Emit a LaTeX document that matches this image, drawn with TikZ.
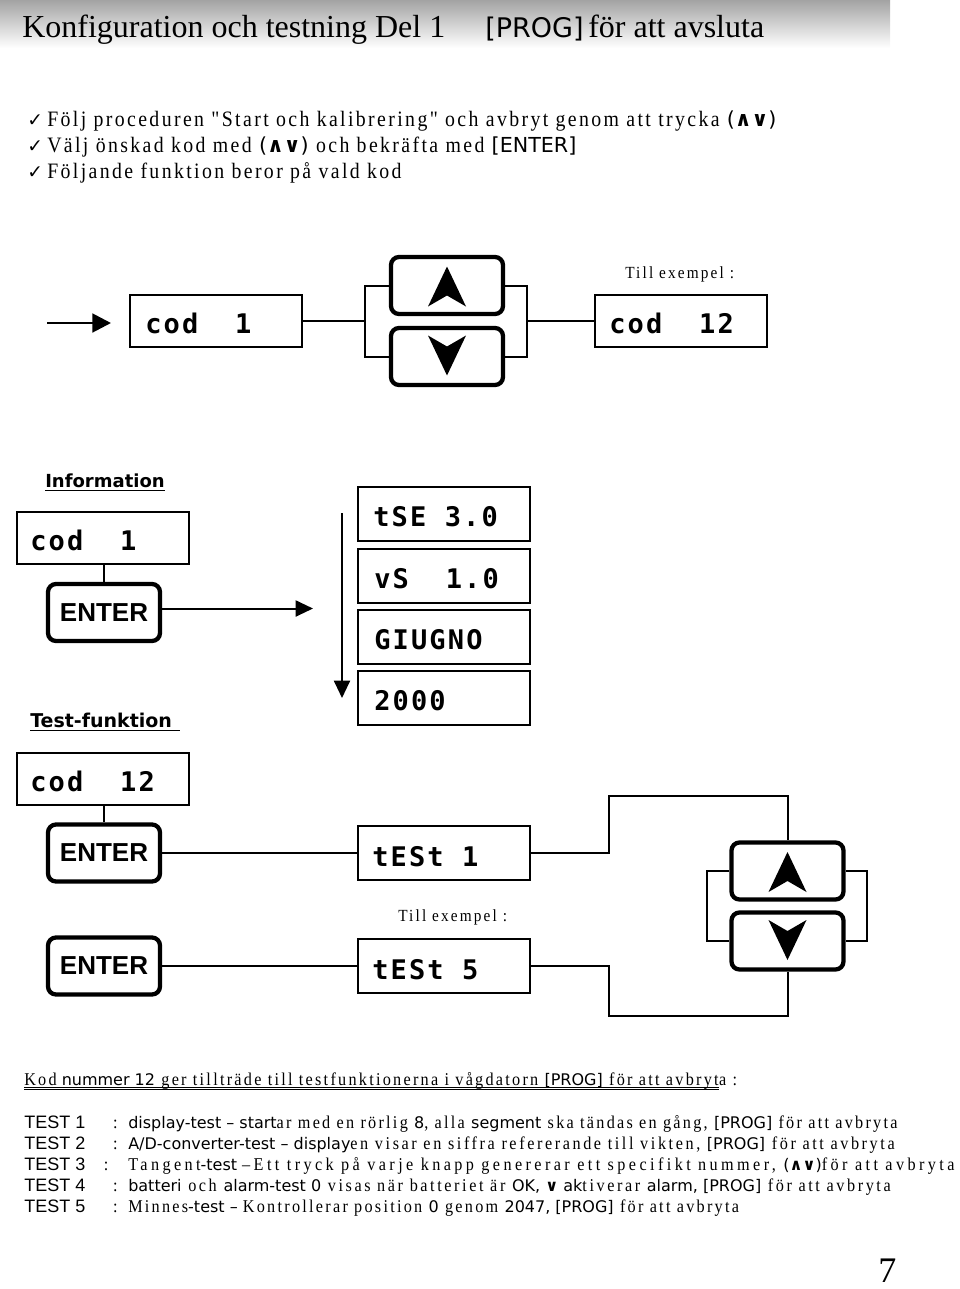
\documentclass[tikz,border=0pt]{standalone}
\usepackage{fontspec}
\usepackage{graphicx}
\usetikzlibrary{arrows.meta}
\setmainfont{Liberation Serif}
\newfontfamily\titlef{Liberation Serif}
\newfontfamily\srA[LetterSpace=12]{Liberation Serif}
\newfontfamily\srB[LetterSpace=14]{Liberation Serif}
\newfontfamily\srBB[LetterSpace=16]{Liberation Serif}
\newfontfamily\srC[LetterSpace=21]{Liberation Serif}
\newfontfamily\cm{DejaVu Sans}
\newfontfamily\lcdf[LetterSpace=8]{DejaVu Sans Mono}
\newfontfamily\arl{Liberation Sans}
\newfontfamily\sym{DejaVu Sans}
\newcommand\fs[1]{\fontsize{#1}{#1}\selectfont}
\newcommand\bs[1]{\scalebox{0.9}[1]{\srA\fs{16.5}#1}}
\newcommand\bc[1]{{\cm\fs{15.5}#1}}
\newcommand\ts[1]{\scalebox{0.9}[1]{\srB\fs{13.5}#1}}
\newcommand\tsw[1]{\scalebox{0.9}[1]{\srBB\fs{13.5}#1}}
\newcommand\tw[1]{\scalebox{0.9}[1]{\srC\fs{13.5}#1}}
\newcommand\tc[1]{{\cm\fs{12}#1}}
\newcommand\ud{{\sym\bfseries ∧∨}}
\newcommand\dnc{{\sym\bfseries ∨}}
\begin{document}
\begin{tikzpicture}[x=0.75pt,y=-0.75pt,
  disp/.style={draw, line width=1.5pt, minimum width=129pt, minimum height=39pt, inner sep=0pt},
  btn/.style={draw, line width=3.2pt, rounded corners=6pt, minimum width=84pt, minimum height=42.75pt, inner sep=0pt, font={\arl\bfseries\fs{19.5}}},
  lcd/.style={anchor=base west, inner sep=0pt, font={\lcdf\bfseries\fs{20.25}}},
  conn/.style={line width=1.5pt},
  txt/.style={anchor=base west, inner sep=0pt},
  bigarrow/.style={line width=2.2pt, -{Triangle[length=14pt,width=14pt]}},
  arrow/.style={line width=1.5pt, -{Triangle[length=13pt,width=12pt]}}
]
\useasboundingbox (0,0) rectangle (960,1289);
% header
\shade[top color=black!36, bottom color=white] (0,0) rectangle (890,48);
\node[txt, font={\titlef\fs{24}}] (title) at (22,37) {Konfiguration och testning Del 1};
\node[txt, font={\cm\fs{20.25}}] (prog) at (485,37) {[PROG]};
\node[txt, font={\titlef\fs{24}}] (avs) at (588,37) {för att avsluta};
% bullets
\node[txt, font={\sym\fs{14}}] (ck1) at (27,126) {✓};
\node[txt, font={\sym\fs{14}}] (ck2) at (27,152) {✓};
\node[txt, font={\sym\fs{14}}] (ck3) at (27,178) {✓};
\node[txt] (bl1) at (47,126) {\bs{Följ proceduren "Start och kalibrering" och avbryt genom att trycka }\bc{(\ud)}};
\node[txt] (bl2) at (47,152) {\bs{Välj önskad kod med }\bc{(\ud)}\bs{ och bekräfta med }\bc{[ENTER]}};
\node[txt] (bl3) at (47,178) {\bs{Följande funktion beror på vald kod}};
% top row
\coordinate (a0) at (47,323);
\coordinate (a1) at (111,323);
\draw[bigarrow] (a0) -- (a1);
\node[disp] (cod1) at (216,321) {};
\node[lcd] (cod1t) at (145,333) {cod~~1};
\node[btn] (up1) at (447,285.5) {};
\node[btn] (dn1) at (447,356.5) {};
\fill (up1.center) ++(0,-19) -- ++(19,40) -- ++(-19,-11) -- ++(-19,11) -- cycle;
\fill (dn1.center) ++(0,19) -- ++(19,-40) -- ++(-19,11) -- ++(-19,-11) -- cycle;
\node[disp] (cod12) at (680.5,321) {};
\node[lcd] (cod12t) at (609,333) {cod~~12};
\node[txt] (ex1) at (625,278) {\scalebox{0.9}[1]{\srB\fs{12.75}Till exempel :}};
\coordinate (xbl) at (365,0);
\coordinate (xbr) at (527,0);
\draw[conn] (cod1.east) -- (xbl |- cod1.east);
\draw[conn] (up1.west) -| (xbl |- cod1.east) |- (dn1.west);
\draw[conn] (up1.east) -| (xbr |- cod12.west) |- (dn1.east);
\draw[conn] (xbr |- cod12.west) -- (cod12.west);
% information
\node[txt, font={\cm\bfseries\fs{13.5}}] (infoL) at (45,487) {Information};
\draw[line width=1.2pt] ([yshift=-2.5pt]infoL.base west) -- ([yshift=-2.5pt]infoL.base east);
\node[disp] (codI) at (102.5,537.5) {};
\node[lcd] (codIt) at (30,550) {cod~~1};
\node[btn] (entI) at (104,612.5) {ENTER};
\draw[conn] (entI.north |- codI.south) -- (entI.north);
\coordinate (xar) at (313,0);
\draw[arrow] ([yshift=3pt]entI.east) -- ([yshift=3pt]xar |- entI.east);
\coordinate (va0) at (342,513);
\coordinate (va1) at (342,698);
\draw[arrow] (va0) -- (va1);
\node[disp, minimum height=40.5pt] (i1) at (444,514) {};
\node[disp, minimum height=40.5pt] (i2) at (444,575.5) {};
\node[disp, minimum height=40.5pt] (i3) at (444,636.5) {};
\node[disp, minimum height=40.5pt] (i4) at (444,697.5) {};
\node[lcd] (i1t) at (373,526) {tSE~3.0};
\node[lcd] (i2t) at (374,588) {vS~~1.0};
\node[lcd] (i3t) at (374,649) {GIUGNO};
\node[lcd] (i4t) at (374,710) {2000};
% test
\node[txt, font={\cm\bfseries\fs{14.25}}] (testL) at (30,727) {Test-funktion};
\draw[line width=1.2pt] ([yshift=-2.5pt]testL.base west) -- ([yshift=-2.5pt,xshift=6pt]testL.base east);
\node[disp] (codT) at (102.5,778.5) {};
\node[lcd] (codTt) at (30,791) {cod~~12};
\node[btn] (entT1) at (104,853) {ENTER};
\draw[conn] (entT1.north |- codT.south) -- (entT1.north);
\node[disp, minimum height=40.5pt] (tst1) at (444,853) {};
\node[lcd] (tst1t) at (372,866) {tESt~1};
\draw[conn] (entT1.east) -- (tst1.west);
\node[txt] (ex2) at (398,921) {\scalebox{0.9}[1]{\srB\fs{12.75}Till exempel :}};
\node[btn] (entT2) at (104,966) {ENTER};
\node[disp, minimum height=40.5pt] (tst5) at (444,966) {};
\node[lcd] (tst5t) at (372,979) {tESt~5};
\draw[conn] (entT2.east) -- (tst5.west);
\node[btn] (up2) at (787.5,871) {};
\node[btn] (dn2) at (787.5,941) {};
\fill (up2.center) ++(0,-19) -- ++(19,40) -- ++(-19,-11) -- ++(-19,11) -- cycle;
\fill (dn2.center) ++(0,19) -- ++(19,-40) -- ++(-19,11) -- ++(-19,-11) -- cycle;
\coordinate (xs1) at (707,0);
\coordinate (xs2) at (867,0);
\draw[conn] (up2.west) -| (xs1 |- dn2.west) -- (dn2.west);
\draw[conn] (up2.east) -| (xs2 |- dn2.east) -- (dn2.east);
\coordinate (xk) at (609,0);
\coordinate (yt) at (0,796);
\coordinate (yb) at (0,1016);
\draw[conn] (tst1.east) -- (xk |- tst1.east) |- (up2.north |- yt) -- (up2.north);
\draw[conn] (tst5.east) -- (xk |- tst5.east) |- (dn2.south |- yb) -- (dn2.south);
% text section
\node[txt] (kodA) at (24,1085) {\ts{Kod}\tc{ nummer 12}\ts{ ger tillträde till testfunktionerna i vågdatorn }\tc{[PROG]}\ts{ för att avbryt}};
\node[txt] (kodB) at (kodA.base east) {\ts{a :}};
\draw[line width=0.6pt] ([yshift=-2pt]kodA.base west) -- ([yshift=-2pt]kodA.base east);
\draw[line width=0.6pt] ([yshift=-3.6pt]kodA.base west) -- ([yshift=-3.6pt]kodA.base east);
\node[txt, font={\arl\fs{13.5}}] (l1) at (24,1128) {TEST 1};
\node[txt, font={\arl\fs{13.5}}] (l2) at (24,1149) {TEST 2};
\node[txt, font={\arl\fs{13.5}}] (l3) at (24,1170) {TEST 3};
\node[txt, font={\arl\fs{13.5}}] (l4) at (24,1191) {TEST 4};
\node[txt, font={\arl\fs{13.5}}] (l5) at (24,1212) {TEST 5};
\node[txt] (c1) at (128,1128) {\llap{\ts{:}\hspace{8pt}}\tc{display-test – start}\ts{ar med en rörlig }\tc{8}\ts{, alla }\tc{segment}\ts{ ska tändas en gång, }\tc{[PROG]}\ts{ för att avbryta}};
\node[txt] (c2) at (128,1149) {\llap{\ts{:}\hspace{8pt}}\tc{A/D-converter-test – display}\tsw{en visar en siffra refererande till vikten, }\tc{[PROG]}\tsw{ för att avbryta}};
\node[txt] (c3) at (128,1170) {\llap{\ts{:}\hspace{15pt}}\tw{Tangent}\tc{-test }\tw{–Ett tryck på varje knapp genererar ett specifikt nummer, }\tc{(\ud)}\tw{för att avbryta}};
\node[txt] (c4) at (128,1191) {\llap{\ts{:}\hspace{8pt}}\tc{batteri}\tsw{ och }\tc{alarm-test 0}\tsw{ visas när batteriet är }\tc{OK, \dnc{} ak}\tsw{tiverar }\tc{alarm, [PROG]}\tsw{ för att avbryta}};
\node[txt] (c5) at (128,1212) {\llap{\ts{:}\hspace{8pt}}\ts{Minnes}\tc{-test – }\ts{Kontrollerar position }\tc{0}\ts{ genom }\tc{2047, [PROG]}\ts{ för att avbryta}};
\node[txt, font={\titlef\fs{27}}] (pg) at (878,1282) {7};
\end{tikzpicture}
\end{document}
